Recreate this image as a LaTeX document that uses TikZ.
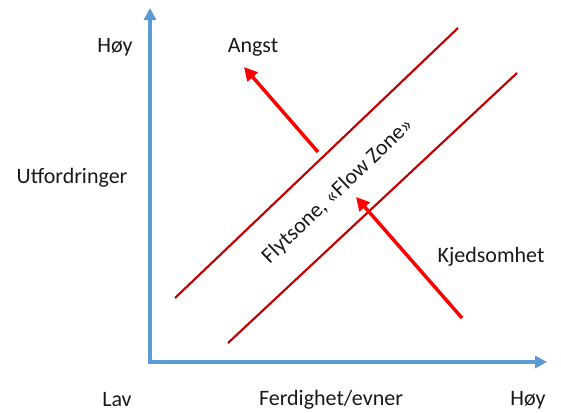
\documentclass[tikz,border=0pt]{standalone}
\usepackage{fontspec}
\setmainfont{Carlito}
\usetikzlibrary{arrows.meta}
\definecolor{axisblue}{HTML}{5B9BD5}
\definecolor{zonered}{HTML}{C00000}
\begin{document}
\begin{tikzpicture}[x=0.75pt,y=0.75pt,
    axis/.style={draw=axisblue,line width=2.4pt,-{Triangle[length=9pt,width=9pt]}},
    zone/.style={draw=zonered,line width=1.6pt},
    moveto/.style={draw=red,line width=2.6pt,-{Triangle[length=10pt,width=10pt]}},
    every node/.style={font=\fontsize{16.5}{19}\selectfont,inner sep=1pt,text=black!90}]
    \useasboundingbox (0,0) rectangle (561,412);

    % axes
    \coordinate (o) at (150,50);
    \coordinate (ytop) at (150,404);
    \coordinate (xend) at (547,50);
    \draw[axis] ([yshift=-1.2pt]o) -- (ytop);
    \draw[axis] ([xshift=-1.2pt]o) -- (xend);

    % flow zone borders
    \coordinate (u1) at (175,114);
    \coordinate (u2) at (458,384);
    \coordinate (l1) at (228,69);
    \coordinate (l2) at (517,339);
    \draw[zone] (u1) -- (u2);
    \draw[zone] (l1) -- (l2);

    % labels
    \node (yhigh) at (115,365) {Høy};
    \node (angst) at (253,365) {Angst};
    \node (ylabel) at (72,234) {Utfordringer};
    \node (bored) at (491,155) {Kjedsomhet};
    \node (low) at (117,12) {Lav};
    \node (xlabel) at (331,12) {Ferdighet/evner};
    \node (xhigh) at (528,12) {Høy};
    \node[rotate=43.6] (flow) at (338,221) {Flytsone, «Flow Zone»};

    % arrows
    \coordinate (a1) at (318,260);
    \coordinate (a2) at (244,345);
    \coordinate (b1) at (462,94);
    \coordinate (b2) at (356,215);
    \draw[moveto] (a1) -- (a2);
    \draw[moveto] (b1) -- (b2);
\end{tikzpicture}
\end{document}
